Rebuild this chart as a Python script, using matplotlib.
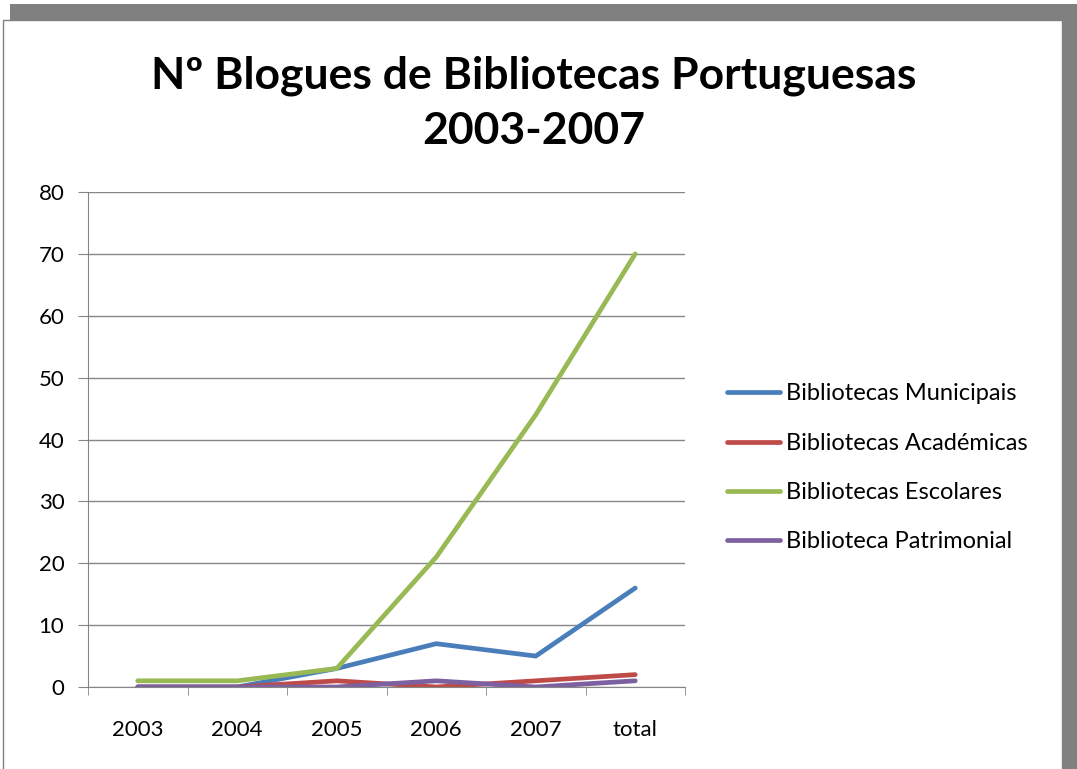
import matplotlib.pyplot as plt
from matplotlib.patches import Rectangle
import numpy as np

categories = ['2003', '2004', '2005', '2006', '2007', 'total']
municipais = [0, 0, 3, 7, 5, 16]
academicas = [0, 0, 1, 0, 1, 2]
escolares = [1, 1, 3, 21, 44, 70]
patrimonial = [0, 0, 0, 1, 0, 1]

series = [
    ('Bibliotecas Municipais', municipais, '#4A7EBB'),
    ('Bibliotecas Académicas', academicas, '#BE4B48'),
    ('Bibliotecas Escolares', escolares, '#98B954'),
    ('Biblioteca Patrimonial', patrimonial, '#7D60A0'),
]

plt.rcParams['font.family'] = ['Lato', 'DejaVu Sans']

W, H = 1077, 769
fig = plt.figure(figsize=(W / 100, H / 100), dpi=100)

# shadow frame and white chart area (pixel coords -> figure fraction)
def rect(x0, y0, x1, y1, **kw):
    fig.patches.append(Rectangle((x0 / W, 1 - y1 / H), (x1 - x0) / W, (y1 - y0) / H,
                                 transform=fig.transFigure, zorder=-5, **kw))

rect(10, 4, 1077, 769, facecolor='#808080', edgecolor='none')
rect(3, 20, 1062, 772, facecolor='white', edgecolor='#808080', linewidth=1)

ax = fig.add_axes([88 / W, 1 - 687 / H, (685 - 88) / W, (687 - 192) / H])
ax.set_facecolor('none')

x = np.arange(len(categories))
for name, vals, col in series:
    ax.plot(x, vals, color=col, linewidth=3.4, label=name, solid_capstyle='round')

ax.set_xlim(-0.5, len(categories) - 0.5)
ax.set_ylim(0, 80)
ax.set_yticks(np.arange(0, 81, 10))
ax.set_xticks(x)
ax.set_xticklabels(categories)
ax.set_xticks(np.arange(-0.5, len(categories), 1), minor=True)
ax.tick_params(axis='x', which='major', length=0, pad=24, labelsize=16)
ax.tick_params(axis='x', which='minor', length=6, color='#868686')
ax.tick_params(axis='y', length=7, color='#868686', labelsize=16, pad=10)
ax.grid(axis='y', color='#868686', linewidth=1)
ax.set_axisbelow(True)
for s in ['top', 'right']:
    ax.spines[s].set_visible(False)
for s in ['left', 'bottom']:
    ax.spines[s].set_color('#868686')

fig.text(534 / W, 1 - 76 / H, 'Nº Blogues de Bibliotecas Portuguesas',
         ha='center', va='center', fontsize=32, fontweight='bold')
fig.text(534 / W, 1 - 131 / H, '2003-2007',
         ha='center', va='center', fontsize=32, fontweight='bold')

fig.legend(loc='center left', bbox_to_anchor=(727 / W, 1 - 468 / H), frameon=False,
           fontsize=17, handlelength=2.25, handletextpad=0.25, labelspacing=1.2,
           borderpad=0, borderaxespad=0)

fig.savefig('out.png', dpi=100)
